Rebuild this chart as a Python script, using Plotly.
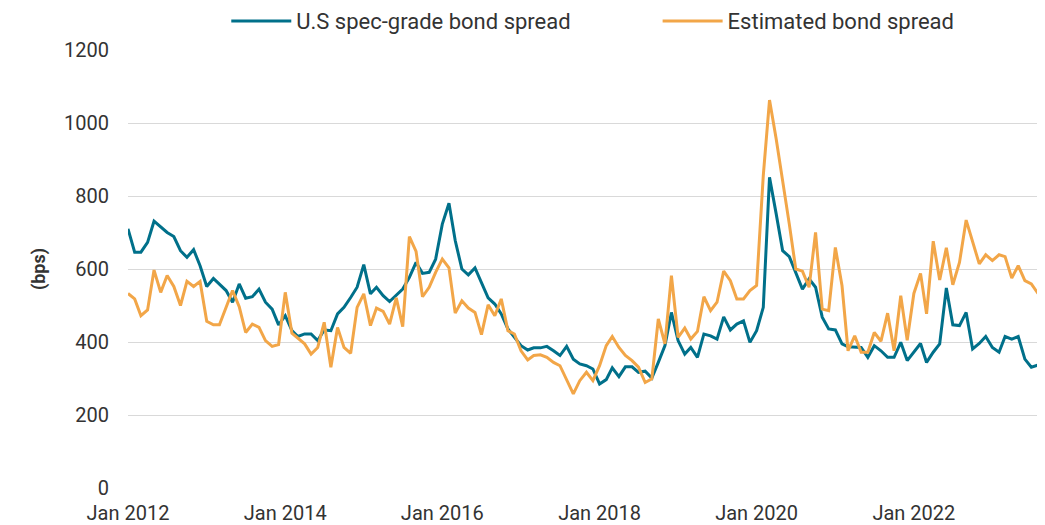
import plotly.graph_objects as go
import pandas as pd

months = pd.date_range("2012-01-01", periods=140, freq="MS")

spec_grade_spread = [
    710, 646, 646, 673, 731, 714, 700, 689, 650, 632, 653, 609,
    552, 574, 559, 541, 509, 559, 520, 524, 545, 509, 490, 447,
    472, 431, 415, 422, 422, 404, 433, 431, 477, 495, 522, 550,
    612, 532, 550, 527, 511, 527, 545, 577, 618, 588, 591, 627,
    723, 780, 678, 600, 584, 603, 563, 521, 504, 477, 436, 413,
    390, 378, 384, 384, 388, 376, 363, 388, 353, 340, 335, 326,
    285, 297, 329, 305, 332, 332, 317, 320, 301, 344, 390, 481,
    404, 367, 385, 358, 422, 417, 408, 469, 433, 449, 458, 399,
    431, 495, 851, 751, 650, 634, 591, 545, 573, 550, 468, 436,
    433, 395, 387, 385, 385, 358, 390, 376, 358, 358, 399, 349,
    372, 396, 344, 372, 395, 548, 447, 445, 481, 381, 396, 415,
    385, 372, 415, 408, 415, 353, 331, 337,
]

estimated_spread = [
    533, 518, 472, 488, 597, 536, 582, 552, 500, 566, 552, 566,
    457, 447, 447, 497, 541, 497, 426, 449, 440, 404, 388, 393,
    536, 424, 411, 395, 367, 385, 454, 331, 440, 385, 369, 495,
    532, 445, 493, 484, 449, 521, 442, 689, 648, 524, 550, 591,
    627, 603, 479, 513, 493, 481, 420, 502, 472, 518, 431, 422,
    376, 351, 363, 365, 358, 344, 335, 294, 258, 294, 317, 294,
    335, 390, 415, 385, 363, 349, 331, 289, 299, 463, 395, 582,
    413, 438, 408, 429, 524, 486, 509, 594, 568, 518, 518, 541,
    555, 856, 1063, 956, 847, 723, 600, 594, 550, 700, 490, 486,
    659, 554, 376, 417, 372, 372, 426, 402, 479, 376, 527, 405,
    533, 588, 477, 676, 570, 658, 557, 618, 734, 673, 614, 639,
    623, 639, 634, 575, 609, 568, 559, 533,
]

series_names = ["U.S spec-grade bond spread", "Estimated bond spread"]
tick_dates = ["2012-01-01", "2014-01-01", "2016-01-01", "2018-01-01", "2020-01-01", "2022-01-01"]
tick_labels = ["Jan 2012", "Jan 2014", "Jan 2016", "Jan 2018", "Jan 2020", "Jan 2022"]
y_ticks = [0, 200, 400, 600, 800, 1000, 1200]

teal = "#00708A"
orange = "#F2A648"
font_family = "Roboto, Liberation Sans, Arial, sans-serif"

fig = go.Figure()
fig.add_trace(go.Scatter(x=months, y=spec_grade_spread, mode="lines",
                         name=series_names[0], line=dict(color=teal, width=3),
                         legend="legend"))
fig.add_trace(go.Scatter(x=months, y=estimated_spread, mode="lines",
                         name=series_names[1], line=dict(color=orange, width=3),
                         legend="legend2"))

legend_style = dict(orientation="h", xanchor="left", y=1.066, yanchor="middle",
                    font=dict(size=22, color="#333333"), itemwidth=60,
                    bgcolor="rgba(0,0,0,0)")

# the page body adds an 8px offset, so the figure is sized 8px smaller
fig.update_layout(
    width=1037, height=517,
    margin=dict(l=120, r=7, t=42, b=37, autoexpand=False),
    paper_bgcolor="white", plot_bgcolor="white",
    font=dict(family=font_family, size=20, color="#333333"),
    showlegend=True,
    legend=dict(x=0.108, **legend_style),
    legend2=dict(x=0.582, **legend_style),
    xaxis=dict(type="date", range=[months[0], months[-1]],
               tickvals=tick_dates, ticktext=tick_labels,
               showgrid=False, zeroline=False, showline=False,
               ticks="", ticklabelstandoff=11, automargin=False),
    yaxis=dict(range=[0, 1200], tickvals=y_ticks,
               showgrid=True, gridcolor="#d9d9d9", gridwidth=1,
               zeroline=False, showline=False, ticks="",
               ticklabelstandoff=18, automargin=False,
               title=dict(text="<b>(bps)</b>", font=dict(size=18, color="#333333"), standoff=13)),
)

fig.write_html("out.html")
